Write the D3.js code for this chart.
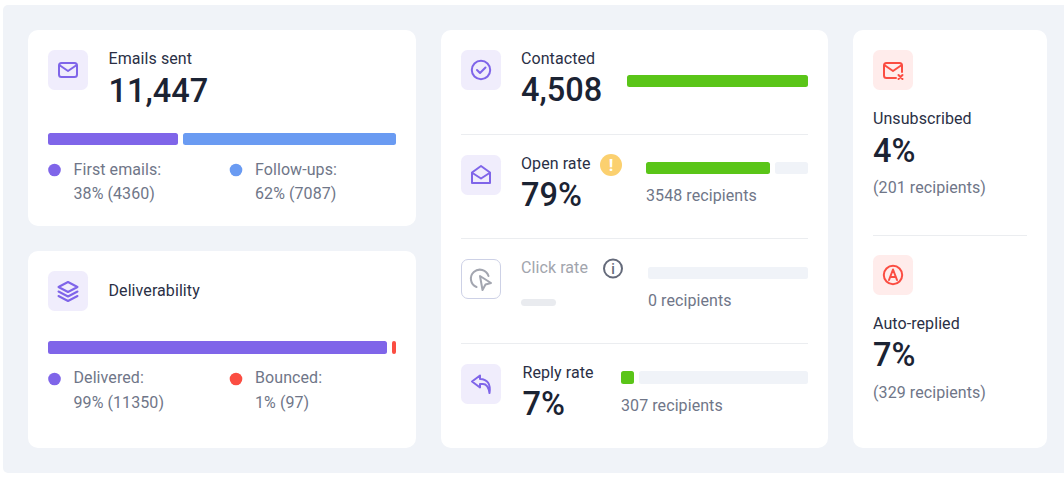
<!DOCTYPE html>
<html>
<head>
<meta charset="utf-8">
<script src="https://cdn.jsdelivr.net/npm/d3@7"></script>
<style>
html, body { margin: 0; padding: 0; background: #fff; overflow: hidden; }
svg { display: block; font-family: Roboto, sans-serif; }
</style>
</head>
<body>
<svg id="chart" width="1064" height="480"></svg>
<script>
// chart values
const sentLabels = ["First emails:", "Follow-ups:"];
const sentCounts = [4360, 7087];
const sentPercents = [38, 62];
const sentTotal = "11,447";

const deliveryLabels = ["Delivered:", "Bounced:"];
const deliveryCounts = [11350, 97];
const deliveryPercents = [99, 1];

const contactedTotal = "4,508";
const rateLabels = ["Open rate", "Click rate", "Reply rate"];
const ratePercents = [79, 0, 7];
const rateRecipients = [3548, 0, 307];

const sideLabels = ["Unsubscribed", "Auto-replied"];
const sidePercents = [4, 7];
const sideRecipients = [201, 329];

const purple = "#7f65e9", blue = "#6a9bf2", red = "#fb4d42", green = "#5ac518";
const track = "#f0f3f8", ink = "#1b2333", label = "#2a2f45", muted = "#6f7688";
const labelSize = 16, bigSize = 32.5, minPart = 4;

const svg = d3.select("#chart");

// background panel and cards
svg.append("rect").attr("x", 3).attr("y", 5).attr("width", 1075).attr("height", 468).attr("rx", 5).attr("fill", track);
[[28, 30, 388, 196], [28, 251, 388, 197], [441, 30, 387, 418], [853, 30, 194, 418]].forEach(c => {
    svg.append("rect").attr("x", c[0]).attr("y", c[1]).attr("width", c[2]).attr("height", c[3]).attr("rx", 10).attr("fill", "#fff");
});

function text(x, y, str, size, color, weight) {
    return svg.append("text").attr("x", x).attr("y", y).text(str)
        .attr("font-size", size).attr("fill", color).attr("font-weight", weight || 400)
        .attr("letter-spacing", size === labelSize ? 0.08 : 0);
}
function divider(x1, x2, y) {
    svg.append("line").attr("x1", x1).attr("x2", x2).attr("y1", y + 0.5).attr("y2", y + 0.5).attr("stroke", "#ebedf0");
}

// bar split in two with a fixed gap, whole pixel widths from a rounded scale
// small non-zero parts keep a minimum width, like a css min-width
function splitBar(x0, x1, y, h, values, colors, gap) {
    const inner = x1 - x0 - gap;
    const x = d3.scaleLinear().domain([0, d3.sum(values)]).range([0, inner]);
    let a = Math.round(x(values[0]));
    if (values[1] > 0 && inner - a < minPart) a = inner - minPart;
    const parts = [[x0, a], [x0 + a + gap, inner - a]];
    parts.forEach((p, i) => {
        if (p[1] <= 0) return;
        svg.append("rect").attr("x", p[0]).attr("y", y).attr("width", p[1]).attr("height", h).attr("rx", Math.min(2.5, p[1] / 2)).attr("fill", colors[i]);
    });
}

function legend(dotY, firstBase, secondBase, labels, percents, counts, colors) {
    [54.5, 236].forEach((dx, i) => {
        svg.append("circle").attr("cx", dx).attr("cy", dotY).attr("r", 6.3).attr("fill", colors[i]);
    });
    [73.5, 255].forEach((tx, i) => {
        text(tx, firstBase, labels[i], labelSize, muted);
        text(tx, secondBase, percents[i] + "% (" + counts[i] + ")", labelSize, muted);
    });
}

// icon tile, draws the glyph with a callback
function tile(x, y, fill, stroke, glyph) {
    svg.append("rect").attr("x", x + (stroke ? 0.5 : 0)).attr("y", y + (stroke ? 0.5 : 0))
        .attr("width", stroke ? 39 : 40).attr("height", stroke ? 39 : 40).attr("rx", 6.5)
        .attr("fill", fill).attr("stroke", stroke || "none");
    const g = svg.append("g").attr("transform", `translate(${x},${y})`)
        .attr("fill", "none").attr("stroke-width", 2).attr("stroke-linejoin", "round").attr("stroke-linecap", "round");
    glyph(g);
}
const icons = {
    mail: g => {
        g.append("rect").attr("x", 11).attr("y", 13).attr("width", 18).attr("height", 14).attr("rx", 2.5).attr("stroke", purple);
        g.append("path").attr("d", "M12 15.5 L20 21 L28 15.5").attr("stroke", purple);
    },
    layers: g => {
        g.append("path").attr("d", "M20 11 L29.5 16 L20 21 L10.5 16 Z").attr("stroke", purple);
        g.append("path").attr("d", "M10.5 20.5 L20 25.5 L29.5 20.5").attr("stroke", purple);
        g.append("path").attr("d", "M10.5 25 L20 30 L29.5 25").attr("stroke", purple);
    },
    check: g => {
        g.append("circle").attr("cx", 20).attr("cy", 20).attr("r", 9.2).attr("stroke", purple);
        g.append("path").attr("d", "M16 20 L19 23 L24.5 17.5").attr("stroke", purple);
    },
    open: g => {
        g.append("path").attr("d", "M11 17.5 L20 11 L29 17.5 V28 H11 Z").attr("stroke", purple);
        g.append("path").attr("d", "M11.5 18 L20 23.5 L28.5 18").attr("stroke", purple);
    },
    click: g => {
        g.append("path").attr("d", "M17 29 A9 9 0 1 1 29 18").attr("stroke", "#a3a6b0").attr("transform", "translate(-1.5,-1)");
        g.append("path").attr("d", "M19 17 L30 24 L24.5 25.5 L21.5 31 Z").attr("stroke", "#a3a6b0").attr("fill", "#fff");
    },
    reply: g => {
        g.append("path").attr("d", "M19 11.5 L11 17.5 L19 23.5 V20 H22 Q27 20 28.5 29 Q30.5 15.5 19 15 Z").attr("stroke", purple);
    },
    unsub: g => {
        g.append("path").attr("d", "M29 22 V15.5 Q29 13 26.5 13 H13.5 Q11 13 11 15.5 V25.5 Q11 28 13.5 28 H23").attr("stroke", red);
        g.append("path").attr("d", "M12 15.5 L20 21 L28 15.5").attr("stroke", red);
        g.append("path").attr("d", "M25.5 25 L29.5 29 M29.5 25 L25.5 29").attr("stroke", red);
    },
    auto: g => {
        g.append("circle").attr("cx", 20).attr("cy", 20).attr("r", 9.2).attr("stroke", red);
        g.append("path").attr("d", "M16 25 L20 14.5 L24 25 M17.3 22 H22.7").attr("stroke", red);
    }
};

// Emails sent
tile(48, 50, "#f0edfc", null, icons.mail);
text(108.5, 64, "Emails sent", labelSize, label);
text(108.5, 102, sentTotal, bigSize, ink, 500);
splitBar(48, 396, 133, 12, sentPercents, [purple, blue], 5);
legend(170, 175, 199, sentLabels, sentPercents, sentCounts, [purple, blue]);

// Deliverability
tile(48, 271, "#f0edfc", null, icons.layers);
text(108.5, 296, "Deliverability", labelSize, label);
splitBar(48, 396, 341, 13, deliveryPercents, [purple, red], 5);
legend(379, 383, 408, deliveryLabels, deliveryPercents, deliveryCounts, [purple, red]);

// Contacted
tile(461, 50, "#f0edfc", null, icons.check);
text(521, 64, "Contacted", labelSize, label);
text(521, 101, contactedTotal, bigSize, ink, 500);
splitBar(627, 808, 75, 12, [1, 0], [green, track], 0);
divider(461, 808, 134);

// Open rate
tile(461, 155, "#f0edfc", null, icons.open);
text(521, 169, rateLabels[0], labelSize, label);
text(521, 206, ratePercents[0] + "%", bigSize, ink, 500);
svg.append("circle").attr("cx", 611).attr("cy", 165).attr("r", 11).attr("fill", "#fbd06f");
svg.append("text").attr("x", 611).attr("y", 171).attr("text-anchor", "middle").attr("font-size", 17).attr("font-weight", 700).attr("fill", "#fff").text("!");
splitBar(646, 808, 162, 12, [ratePercents[0], 100 - ratePercents[0]], [green, track], 5);
text(646, 201, rateRecipients[0] + " recipients", labelSize, muted);
divider(461, 808, 238);

// Click rate
tile(461, 259, "#fff", "#cdd1e6", icons.click);
text(521, 273, rateLabels[1], labelSize, "#a2a5ad");
svg.append("circle").attr("cx", 613).attr("cy", 268.5).attr("r", 9).attr("fill", "none").attr("stroke", "#646a7a").attr("stroke-width", 2);
svg.append("text").attr("x", 613).attr("y", 274).attr("text-anchor", "middle").attr("font-size", 14).attr("font-weight", 500).attr("fill", "#646a7a").text("i");
svg.append("rect").attr("x", 521).attr("y", 299).attr("width", 35).attr("height", 7).attr("rx", 3.5).attr("fill", "#e9ebef");
splitBar(648, 808, 267, 12, [ratePercents[1], 100 - ratePercents[1]], [green, track], 0);
text(648, 306, rateRecipients[1] + " recipients", labelSize, muted);
divider(461, 808, 343);

// Reply rate
tile(461, 364, "#f0edfc", null, icons.reply);
text(522.5, 378, rateLabels[2], labelSize, label);
text(522.5, 415, ratePercents[2] + "%", bigSize, ink, 500);
splitBar(621, 808, 371, 13, [ratePercents[2], 100 - ratePercents[2]], [green, track], 5);
text(621, 411, rateRecipients[2] + " recipients", labelSize, muted);

// Unsubscribed and auto-replied
tile(873, 50, "#ffeceb", null, icons.unsub);
text(873, 124, sideLabels[0], labelSize, label);
text(873, 162, sidePercents[0] + "%", bigSize, ink, 500);
text(873, 193, "(" + sideRecipients[0] + " recipients)", labelSize, muted);
divider(873, 1027, 235);

tile(873, 255, "#ffeceb", null, icons.auto);
text(873, 329, sideLabels[1], labelSize, label);
text(873, 366, sidePercents[1] + "%", bigSize, ink, 500);
text(873, 398, "(" + sideRecipients[1] + " recipients)", labelSize, muted);
</script>
</body>
</html>
